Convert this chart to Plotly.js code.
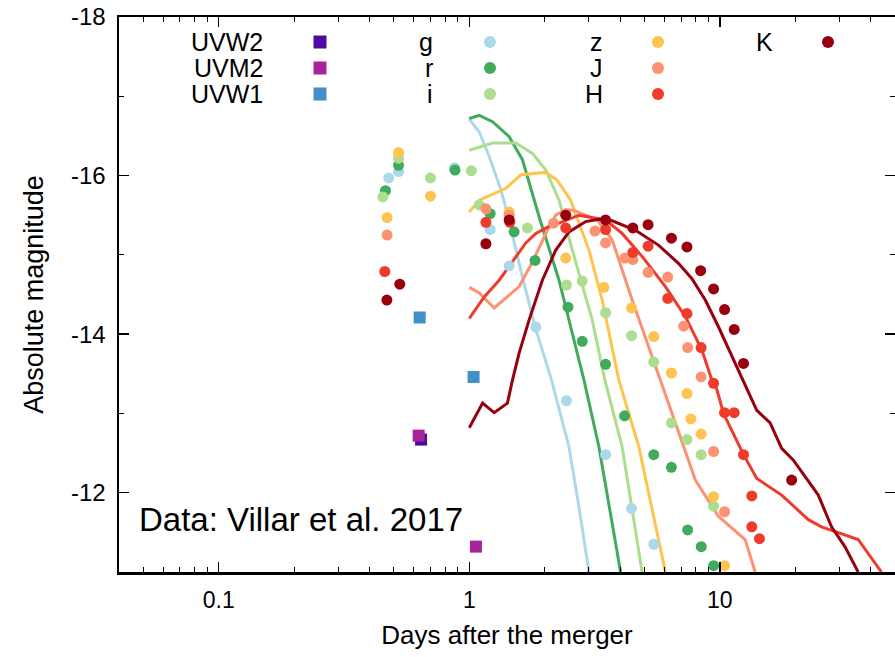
<!DOCTYPE html>
<html><head><meta charset="utf-8">
<script src="https://cdn.plot.ly/plotly-3.0.1.min.js"></script>
<style>html,body{margin:0;padding:0;background:#fff}#chart{width:895px;height:657px}</style>
</head><body><div id="chart"></div>
<script>
// ---- observed photometry (days, absolute mag) ----
const uvw2_t = [0.642];
const uvw2_m = [-12.67];
const uvm2_t = [0.628, 1.063];
const uvm2_m = [-12.72, -11.32];
const uvw1_t = [0.634, 1.040];
const uvw1_m = [-14.21, -13.46];
const g_t = [0.477, 0.522, 0.872, 1.212, 1.443, 1.843, 2.44, 3.50, 4.44, 5.45];
const g_m = [-15.97, -16.05, -16.10, -15.32, -14.86, -14.09, -13.16, -12.48, -11.80, -11.35];
const r_t = [0.463, 0.522, 0.877, 1.212, 1.510, 1.830, 2.477, 2.824, 3.499, 4.166, 5.447, 6.408, 7.438, 8.43, 9.44];
const r_m = [-15.81, -16.13, -16.07, -15.52, -15.29, -14.93, -14.34, -13.91, -13.62, -12.97, -12.48, -12.32, -11.53, -11.32, -11.08];
const i_t = [0.452, 0.522, 0.700, 1.019, 1.096, 1.706, 2.443, 2.824, 3.499, 4.441, 5.447, 6.408, 7.391, 8.418, 9.439];
const i_m = [-15.73, -16.22, -15.97, -16.06, -15.63, -15.34, -14.62, -14.67, -14.27, -13.98, -13.65, -12.88, -12.67, -12.48, -11.83];
const z_t = [0.470, 0.522, 0.700, 1.443, 2.426, 3.445, 4.441, 5.447, 6.408, 7.391, 7.665, 8.418, 9.439, 10.44];
const z_m = [-15.47, -16.29, -15.74, -15.54, -14.96, -14.59, -14.33, -13.97, -13.51, -13.25, -12.93, -12.74, -11.95, -11.08];
const J_t = [0.470, 1.165, 1.443, 2.169, 3.172, 3.499, 4.177, 4.495, 5.170, 6.194, 7.171, 7.438, 8.418, 9.439, 10.44];
const J_m = [-15.25, -15.58, -15.50, -15.40, -15.30, -15.15, -14.96, -14.94, -14.78, -14.72, -14.10, -13.83, -13.46, -12.52, -11.76];
const H_t = [0.460, 1.165, 1.452, 2.426, 3.499, 4.495, 5.170, 6.194, 7.391, 8.418, 9.439, 10.44, 11.41, 12.43, 13.41, 13.41, 14.39];
const H_m = [-14.79, -15.41, -15.41, -15.34, -15.32, -15.03, -15.11, -14.45, -14.26, -13.83, -13.38, -13.01, -13.01, -12.48, -11.96, -11.57, -11.42];
const K_t = [0.469, 0.528, 1.165, 1.443, 2.426, 3.499, 4.495, 5.170, 6.408, 7.391, 8.38, 9.44, 10.44, 11.41, 12.43, 19.34];
const K_m = [-14.43, -14.63, -15.14, -15.44, -15.50, -15.44, -15.34, -15.38, -15.21, -15.10, -14.80, -14.57, -14.31, -14.06, -13.63, -12.16];

// ---- model light curves ----
const gMod_t = [1.00, 1.096, 1.201, 1.284, 1.337, 1.420, 1.64, 1.848, 2.130, 2.499, 2.740, 3.003];
const gMod_m = [-16.71, -16.55, -16.24, -15.99, -15.82, -15.52, -14.68, -14.05, -13.42, -12.58, -11.82, -11.00];
const rMod_t = [1.00, 1.096, 1.238, 1.443, 1.630, 1.814, 1.917, 2.281, 2.869, 3.291, 4.016];
const rMod_m = [-16.72, -16.76, -16.68, -16.49, -16.20, -15.69, -15.44, -14.68, -13.42, -12.58, -11.00];
const iMod_t = [1.00, 1.096, 1.238, 1.534, 1.786, 2.020, 2.281, 2.577, 3.095, 3.477, 4.074, 4.894];
const iMod_m = [-16.32, -16.36, -16.41, -16.41, -16.28, -16.07, -15.69, -15.06, -14.18, -13.42, -12.58, -11.00];
const zMod_t = [1.00, 1.096, 1.400, 1.606, 2.020, 2.246, 2.539, 3.003, 3.392, 3.953, 4.749, 6.063];
const zMod_m = [-15.54, -15.69, -15.84, -16.01, -16.04, -15.94, -15.69, -15.06, -14.43, -13.42, -12.58, -11.00];
const JMod_t = [1.00, 1.096, 1.257, 1.581, 1.786, 2.049, 2.213, 2.426, 2.617, 2.914, 3.239, 3.717, 4.466, 5.792, 6.646, 7.983, 9.88, 12.62, 13.83];
const JMod_m = [-14.59, -14.52, -14.33, -14.60, -14.91, -15.31, -15.50, -15.57, -15.56, -15.50, -15.44, -15.19, -14.43, -13.42, -12.88, -12.16, -11.70, -11.41, -11.00];
const HMod_t = [1.00, 1.147, 1.316, 1.465, 1.681, 1.843, 2.081, 2.281, 2.740, 3.499, 4.074, 4.894, 6.063, 7.285, 8.480, 9.293, 9.73, 10.34, 12.43, 14.04, 17.65, 22.54, 25.46, 35.64, 44.13];
const HMod_m = [-14.20, -14.47, -14.68, -14.89, -15.15, -15.27, -15.36, -15.40, -15.50, -15.44, -15.27, -14.98, -14.60, -14.22, -13.80, -13.42, -13.30, -13.00, -12.48, -12.18, -11.97, -11.66, -11.57, -11.41, -11.00];
const KMod_t = [1.00, 1.13, 1.257, 1.420, 1.487, 1.581, 1.733, 1.957, 2.213, 2.50, 2.914, 3.291, 3.717, 4.607, 5.703, 6.85, 7.737, 8.747, 9.88, 12.24, 14.04, 15.87, 17.65, 19.65, 24.71, 27.91, 31.55, 35.64];
const KMod_m = [-12.82, -13.13, -13.01, -13.13, -13.42, -13.76, -14.18, -14.68, -15.06, -15.29, -15.42, -15.45, -15.43, -15.31, -15.12, -14.89, -14.70, -14.43, -14.09, -13.46, -13.04, -12.88, -12.56, -12.41, -11.97, -11.57, -11.32, -11.00];

const xTickVals = [0.1, 1, 10];
const xTickText = ['0.1', '1', '10'];
const yTickVals = [-18, -16, -14, -12];
const yTickText = ['-18', '-16', '-14', '-12'];
const legendLabels = [['UVW2','UVM2','UVW1'], ['g','r','i'], ['z','J','H'], ['K']];

const COL = {UVW2:'#4a0d9f', UVM2:'#a6239b', UVW1:'#4190c8', g:'#abd9e9', r:'#41ab5d', i:'#addd8e',
             z:'#fec44f', J:'#fc9272', H:'#ef3b2c', K:'#99000d'};

const FONT = 'Liberation Sans, Arial, Helvetica, sans-serif';
const traces = [];
function line(t, m, c){ traces.push({x:t, y:m, type:'scatter', mode:'lines', line:{color:c, width:3}, hoverinfo:'skip'}); }
function pts(t, m, c, sym, sz){ traces.push({x:t, y:m, type:'scatter', mode:'markers', marker:{color:c, size:sz, symbol:sym, line:{width:0}}, hoverinfo:'skip'}); }

line(gMod_t, gMod_m, COL.g);
line(rMod_t, rMod_m, COL.r);
line(iMod_t, iMod_m, COL.i);
line(zMod_t, zMod_m, COL.z);
line(JMod_t, JMod_m, COL.J);
line(HMod_t, HMod_m, COL.H);
line(KMod_t, KMod_m, COL.K);

pts(uvw2_t, uvw2_m, COL.UVW2, 'square', 12);
pts(uvm2_t, uvm2_m, COL.UVM2, 'square', 12);
pts(uvw1_t, uvw1_m, COL.UVW1, 'square', 12);
pts(g_t, g_m, COL.g, 'circle', 11);
pts(r_t, r_m, COL.r, 'circle', 11);
pts(i_t, i_m, COL.i, 'circle', 11);
pts(z_t, z_m, COL.z, 'circle', 11);
pts(J_t, J_m, COL.J, 'circle', 11);
pts(H_t, H_m, COL.H, 'circle', 11);
pts(K_t, K_m, COL.K, 'circle', 11);

// legend (gnuplot style: label then symbol), built from layout shapes + annotations
const L = 119, W = 776, B = 572, Hh = 555;
const px2x = p => (p - L) / W, py2y = p => (B - p) / Hh;
const colTextX = [265, 435, 605, 775];
const colSymX = [320, 490, 658, 828];
const rowY = [42, 68, 94];
const shapes = [], annotations = [];
legendLabels.forEach((col, ci) => {
  col.forEach((lab, ri) => {
    annotations.push({xref:'paper', yref:'paper', x:px2x(colTextX[ci]), y:py2y(rowY[ri]), xanchor:'right', yanchor:'middle',
      text:lab, showarrow:false, font:{family:FONT, size:25, color:'#000'}});
    const isSq = ci === 0;
    const s = isSq ? 6.5 : 6;
    shapes.push({type: isSq ? 'rect' : 'circle', xref:'paper', yref:'paper', xsizemode:'pixel', ysizemode:'pixel',
      xanchor:px2x(colSymX[ci]), yanchor:py2y(rowY[ri]), x0:-s, x1:s, y0:-s, y1:s,
      fillcolor:COL[lab], line:{width:0}});
  });
});
annotations.push({xref:'paper', yref:'paper', x:px2x(137), y:py2y(519), xanchor:'left', yanchor:'middle',
  text:'Data: Villar et al. 2017', showarrow:false, font:{family:FONT, size:33, color:'#000'}});

const layout = {
  width:895, height:657,
  margin:{l:119, r:0, t:17, b:85},
  paper_bgcolor:'#fff', plot_bgcolor:'#fff',
  showlegend:false,
  font:{family:FONT, color:'#000'},
  xaxis:{type:'log', range:[Math.log10(0.04), Math.log10(50)], tickvals:xTickVals, ticktext:xTickText,
    ticks:'inside', ticklen:10, tickwidth:1.5, tickcolor:'#000', showgrid:false, zeroline:false,
    showline:true, linecolor:'#000', linewidth:2.5, mirror:'allticks',
    minor:{ticks:'inside', ticklen:5, tickwidth:1, tickcolor:'#000', dtick:'D1', showgrid:false},
    tickfont:{family:FONT, size:23}, ticklabelstandoff:6,
    title:{text:'Days after the merger', font:{family:FONT, size:26}, standoff:14}},
  yaxis:{range:[-11, -18], tickvals:yTickVals, ticktext:yTickText,
    ticks:'inside', ticklen:10, tickwidth:1.5, tickcolor:'#000', showgrid:false, zeroline:false,
    showline:true, linecolor:'#000', linewidth:2.5, mirror:'allticks',
    minor:{ticks:'inside', ticklen:5, tickwidth:1, tickcolor:'#000', dtick:1, showgrid:false},
    tickfont:{family:FONT, size:24}, ticklabelstandoff:6,
    title:{text:'Absolute magnitude', font:{family:FONT, size:27}, standoff:20}},
  shapes:shapes, annotations:annotations
};
Plotly.newPlot('chart', traces, layout, {staticPlot:true, displayModeBar:false});
</script></body></html>
